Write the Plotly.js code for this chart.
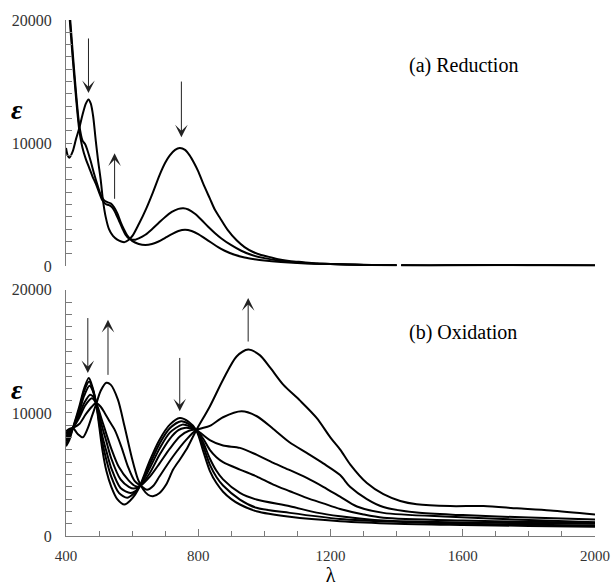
<!DOCTYPE html>
<html>
<head>
<meta charset="utf-8">
<script src="https://cdn.plot.ly/plotly-3.0.1.min.js"></script>
<style>
html,body{margin:0;padding:0;background:#fff;}
#chart{width:613px;height:586px;}
</style>
</head>
<body>
<div id="chart"></div>
<script>
// ---- (a) Reduction spectra ----
var redX_a = [400,405,410,420,430,440,450,460,468,475,482,490,497,505,512,520,530,542,555,567,577,590,602,620,643,663,683,700,714,730,744,760,774,789,800,815,835,850,865,890,916,940,966,990,1017,1050,1080,1118,1160,1200,1250,1300,1350,1400,1408,1414,1500,1600,1700,1800,1900,2000];
var redY_a = [9600,9000,8800,9300,10300,11200,12300,13200,13550,13200,12200,10200,8600,7000,5300,4000,3000,2450,2150,2000,1950,2150,2500,3400,4700,6000,7400,8400,9000,9450,9600,9450,9000,8300,7700,6700,5500,4600,3950,2900,2100,1550,1150,900,730,520,400,320,220,170,130,100,80,70,null,60,50,70,80,70,60,50];

var redX_b = [400,410,420,430,440,450,460,470,480,490,500,510,520,530,540,550,560,570,580,590,600,610,620,640,660,680,700,720,740,755,770,790,810,830,850,870,900,930,960,1000,1050,1100,1150,1200,1250,1300,1350,1400,1408,1414,1500,1600,1700,1800,1900,2000];
var redY_b = [24000,20500,17000,13800,11100,9600,8700,8000,7300,6700,6000,5350,5050,4950,4750,4300,3700,3100,2550,2250,2150,2150,2250,2550,3000,3500,4000,4400,4650,4700,4600,4250,3750,3200,2700,2250,1700,1250,920,650,420,300,220,180,140,110,90,80,null,70,60,80,90,80,70,60];

var redX_c = [400,410,420,430,440,450,458,465,475,485,495,505,515,525,535,545,555,565,575,585,600,620,640,660,680,700,720,740,760,780,800,820,840,860,880,910,940,970,1000,1050,1100,1150,1200,1250,1300,1350,1400,1408,1414,1500,1600,1700,1800,1900,2000];
var redY_c = [24500,21000,17500,14200,11500,10200,9900,9400,8500,7500,6600,5800,5350,5200,5100,4800,4300,3600,3000,2500,2050,1800,1720,1800,2000,2300,2600,2850,2950,2850,2600,2250,1900,1550,1250,920,700,560,450,330,250,200,170,130,100,90,80,null,70,60,70,90,80,70,60];

// ---- (b) Oxidation spectra ----
var oxX1 = [400,410,421,440,455,469,480,491,500,510,522,537,555,577,595,610,623,653,683,714,744,770,794,815,835,855,875,900,926,976,1077,1229,1400,1600,1800,2000];
var oxY1 = [7300,7800,8780,10500,12000,12830,12100,10800,9000,7000,5300,4000,3000,2560,2900,3400,4040,6100,7830,9050,9590,9300,8600,6900,5300,4300,3600,3000,2560,2010,1560,1200,1000,900,820,750];

var oxX2 = [400,410,421,440,455,470,480,491,510,522,537,560,585,605,623,653,683,714,748,772,794,815,835,855,875,926,976,1077,1229,1400,1600,1800,2000];
var oxY2 = [7500,8000,8780,10300,11800,12560,12000,10800,7600,6200,4800,3500,3100,3450,4040,5800,7500,8750,9320,9100,8600,7300,5800,4800,4100,2960,2290,1880,1390,1150,1000,920,850];

var oxX3 = [400,410,421,440,455,471,481,491,510,522,537,565,595,610,623,653,683,714,752,775,794,815,835,855,875,926,976,1077,1158,1229,1360,1600,1800,2000];
var oxY3 = [7700,8200,8780,10100,11400,12210,11800,10800,8100,6900,5500,3900,3500,3650,4040,5500,7100,8400,9050,8900,8600,7600,6300,5300,4600,3500,2960,2420,1900,1610,1250,1100,1050,1000];

var oxX4 = [400,410,421,440,455,473,483,491,510,522,537,565,590,605,623,653,683,714,740,758,777,794,815,835,855,875,926,976,1027,1077,1128,1178,1229,1300,1360,1600,1800,2000];
var oxY4 = [7900,8400,8780,9800,10800,11480,11300,10800,8800,7700,6300,4600,4000,3850,4040,5100,6600,7900,8600,8780,8750,8600,7900,7000,6400,6000,5400,4850,4180,3640,3100,2650,2200,1750,1480,1250,1150,1070];

var oxX5 = [400,410,421,440,458,478,491,510,522,537,560,590,610,623,653,683,714,745,772,794,815,835,875,926,976,1027,1077,1128,1178,1229,1280,1360,1562,1800,2000];
var oxY5 = [8100,8500,8780,9600,10600,11200,10800,9300,8300,7100,5600,4500,4050,4040,4800,5900,7100,8100,8550,8600,8200,7800,7350,7160,6610,5940,5350,4720,4000,3200,2400,1880,1560,1300,1120];

var oxX6 = [400,410,421,440,460,478,491,505,517,532,547,567,587,608,628,645,665,683,724,764,794,835,875,931,976,1027,1077,1128,1178,1229,1259,1310,1360,1461,1600,1800,2000];
var oxY6 = [8300,8600,8780,9100,9900,10500,10800,10500,10000,9300,8640,7290,5660,4450,4040,3750,4100,4850,6480,7830,8600,8950,9650,10130,9750,8700,7600,6750,5900,4950,4000,3000,2350,1900,1700,1500,1340];

var oxX7 = [400,410,421,435,451,465,478,491,505,522,535,557,577,598,618,633,648,663,683,703,724,744,764,794,835,875,916,951,986,1017,1057,1108,1158,1200,1230,1260,1310,1360,1411,1461,1562,1663,1764,1865,2000];
var oxY7 = [8500,8700,8780,8300,8020,8700,9700,10700,11800,12450,12300,11080,8910,6480,4580,3800,3350,3230,3500,4180,5400,6200,7020,8600,10530,12700,14590,15150,14700,13700,12300,11000,9600,8000,7000,5800,4300,3400,2850,2580,2430,2430,2250,2080,1750];

// ---- arrows (wavelength, tail value, tip value) ----
var redArrowX = [468, 547, 749];
var redArrowTail = [18620, 5350, 15120];
var redArrowTip = [14060, 9170, 10470];
var oxArrowX = [466, 527, 744, 951];
var oxArrowTail = [17830, 12970, 14590, 15680];
var oxArrowTip = [13240, 17570, 10130, 19330];

var panelLabels = ['(a) Reduction', '(b) Oxidation'];
var yTitle = 'ε';
var xTitle = 'λ';

var serif = 'Liberation Serif';
var lineStyle = {color: '#000', width: 2, shape: 'spline', smoothing: 0.8};

function tr(x, y, xa, ya) {
  return {x: x, y: y, xaxis: xa, yaxis: ya, type: 'scatter', mode: 'lines',
          line: lineStyle, connectgaps: false, hoverinfo: 'skip', showlegend: false};
}

var data = [
  tr(redX_a, redY_a, 'x2', 'y2'),
  tr(redX_b, redY_b, 'x2', 'y2'),
  tr(redX_c, redY_c, 'x2', 'y2'),
  tr(oxX1, oxY1, 'x', 'y'),
  tr(oxX2, oxY2, 'x', 'y'),
  tr(oxX3, oxY3, 'x', 'y'),
  tr(oxX4, oxY4, 'x', 'y'),
  tr(oxX5, oxY5, 'x', 'y'),
  tr(oxX6, oxY6, 'x', 'y'),
  tr(oxX7, oxY7, 'x', 'y')
];

var axisGrey = '#7a7a7a';
function yAxis(domain) {
  return {
    domain: domain, range: [0, 20000], autorange: false,
    showline: true, linecolor: axisGrey, linewidth: 1,
    ticks: 'inside', ticklen: 6, tickcolor: axisGrey, tickwidth: 1,
    tick0: 0, dtick: 10000, tickformat: 'd',
    minor: {dtick: 1000, ticks: 'inside', ticklen: 6, tickcolor: axisGrey, tickwidth: 1, showgrid: false},
    showgrid: false, zeroline: false,
    tickfont: {family: serif, size: 16, color: '#333'},
    ticklabelstandoff: 10
  };
}

var annotations = [];
function addArrows(xs, tails, tips, xa, ya) {
  for (var i = 0; i < xs.length; i++) {
    annotations.push({
      xref: xa, yref: ya, axref: xa, ayref: ya,
      x: xs[i], y: tips[i], ax: xs[i], ay: tails[i],
      text: '', showarrow: true, arrowhead: 3, arrowsize: 2.1,
      arrowwidth: 1, arrowcolor: '#222', standoff: 0, startstandoff: 0
    });
  }
}
addArrows(redArrowX, redArrowTail, redArrowTip, 'x2', 'y2');
addArrows(oxArrowX, oxArrowTail, oxArrowTip, 'x', 'y');

annotations.push({xref: 'x2', yref: 'y2', x: 1432, y: 16340, text: panelLabels[0],
  showarrow: false, xanchor: 'left', yanchor: 'middle', font: {family: serif, size: 20, color: '#000'}});
annotations.push({xref: 'x', yref: 'y', x: 1432, y: 16510, text: panelLabels[1],
  showarrow: false, xanchor: 'left', yanchor: 'middle', font: {family: serif, size: 20, color: '#000'}});
annotations.push({xref: 'paper', yref: 'paper', x: -0.093, y: 0.826, text: '<b><i>' + yTitle + '</i></b>',
  showarrow: false, xanchor: 'center', yanchor: 'middle', font: {family: serif, size: 28, color: '#000'}});
annotations.push({xref: 'paper', yref: 'paper', x: -0.093, y: 0.283, text: '<b><i>' + yTitle + '</i></b>',
  showarrow: false, xanchor: 'center', yanchor: 'middle', font: {family: serif, size: 28, color: '#000'}});

var layout = {
  width: 613, height: 586,
  margin: {l: 66, r: 18, t: 20, b: 50, pad: 0},
  paper_bgcolor: '#fff', plot_bgcolor: '#fff',
  showlegend: false,
  xaxis: {
    anchor: 'y', domain: [0, 1], range: [400, 2000], autorange: false,
    showline: true, linecolor: axisGrey, linewidth: 1,
    ticks: 'inside', ticklen: 7, tickcolor: axisGrey, tickwidth: 1,
    tick0: 400, dtick: 400,
    minor: {dtick: 100, ticks: 'inside', ticklen: 5, tickcolor: axisGrey, tickwidth: 1, showgrid: false},
    showgrid: false, zeroline: false,
    tickfont: {family: serif, size: 15, color: '#333'},
    ticklabelstandoff: 6,
    title: {text: xTitle, font: {family: serif, size: 20, color: '#000'}, standoff: 2}
  },
  xaxis2: {
    anchor: 'y2', domain: [0, 1], range: [400, 2000], autorange: false, matches: 'x',
    visible: false, showgrid: false, zeroline: false
  },
  yaxis: yAxis([0, 0.477]),
  yaxis2: yAxis([0.523, 1]),
  annotations: annotations
};

Plotly.newPlot('chart', data, layout, {staticPlot: true, displayModeBar: false});
</script>
</body>
</html>
